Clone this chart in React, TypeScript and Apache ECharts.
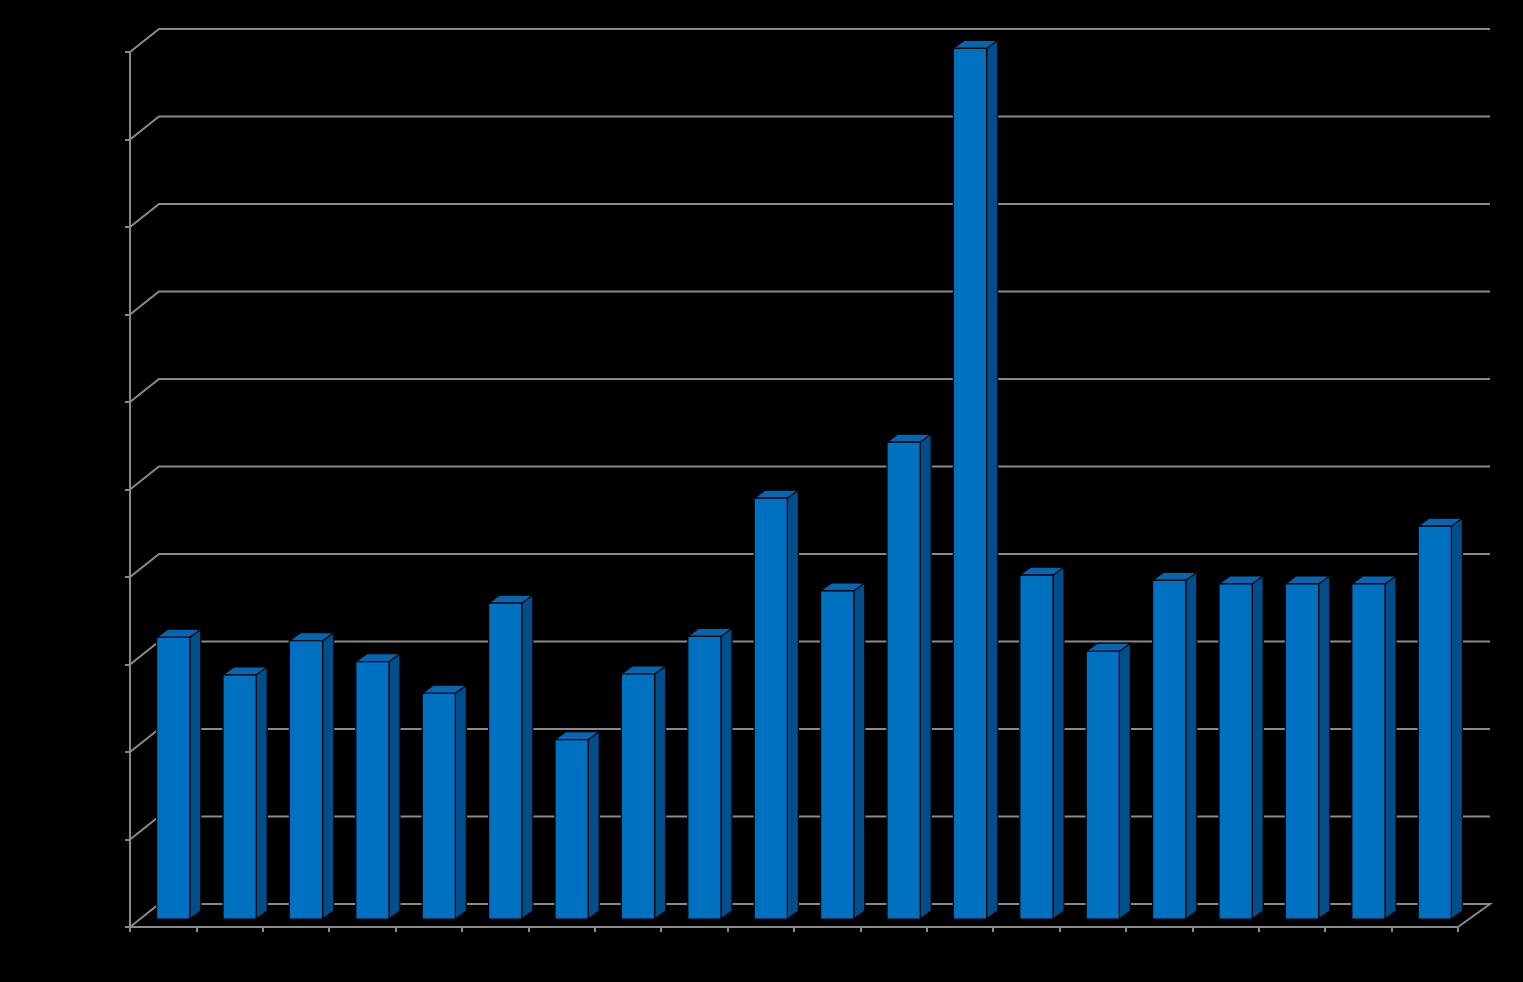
import React, { useEffect, useRef } from "react";
import * as echarts from "echarts";

const categories = ["1","2","3","4","5","6","7","8","9","10","11","12","13","14","15","16","17","18","19","20"];
const values = [32.2, 27.9, 31.8, 29.4, 25.8, 36.1, 20.5, 28.0, 32.3, 48.1, 37.5, 54.5, 99.5, 39.3, 30.6, 38.7, 38.3, 38.3, 38.3, 44.9];
const yTicks = [0, 10, 20, 30, 40, 50, 60, 70, 80, 90, 100];

const GRID_COLOR = "#8a8a8a";
const WALL_DX = 29;
const WALL_DY = -23;
const WALL_EXTRA = 3;
const BAR_OX = 10;
const BAR_OY = -8;
const BAR_DX = 11;
const BAR_DY = -8;

export default function App() {
  const ref = useRef<HTMLDivElement>(null);
  useEffect(() => {
    document.body.style.margin = "0";
    document.body.style.background = "#000";
    const chart = echarts.init(ref.current!, null, { renderer: "svg" });
    chart.setOption({
      animation: false,
      backgroundColor: "#000",
      grid: { left: 130, right: 65, top: 52, bottom: 55 },
      xAxis: {
        type: "category",
        data: categories,
        axisLine: { lineStyle: { color: GRID_COLOR, width: 2 } },
        axisTick: { show: true, length: 5, lineStyle: { color: GRID_COLOR, width: 2 } },
        axisLabel: { show: false },
        splitLine: { show: false },
      },
      yAxis: {
        type: "value",
        min: 0,
        max: 100,
        interval: 10,
        axisLine: { show: true, lineStyle: { color: GRID_COLOR, width: 2 } },
        axisTick: { show: true, length: 5, lineStyle: { color: GRID_COLOR, width: 2 } },
        axisLabel: { show: false },
        splitLine: { show: false },
      },
      series: [
        {
          type: "custom",
          z: 1,
          clip: false,
          data: yTicks.map((v) => [0, v]),
          encode: { x: 0, y: 1 },
          renderItem: (params: any, api: any) => {
            const cs = params.coordSys;
            const v = api.value(1);
            const y = api.coord([0, v])[1];
            const x0 = cs.x;
            const x1 = cs.x + cs.width;
            const pts =
              v === 0
                ? [[x0, y], [x0 + WALL_DX, y + WALL_DY], [x1 + WALL_DX + WALL_EXTRA, y + WALL_DY], [x1, y]]
                : [[x0, y], [x0 + WALL_DX, y + WALL_DY], [x1 + WALL_DX + WALL_EXTRA, y + WALL_DY]];
            return {
              type: "polyline",
              shape: { points: pts },
              style: { stroke: GRID_COLOR, lineWidth: 2, fill: "none" },
            };
          },
        },
        {
          type: "custom",
          z: 5,
          clip: false,
          data: values.map((v, i) => [i, v]),
          encode: { x: 0, y: 1 },
          renderItem: (params: any, api: any) => {
            const i = api.value(0);
            const v = api.value(1);
            const [cx, y0] = api.coord([i, 0]);
            const y1 = api.coord([i, v])[1];
            const bw = api.size([1, 0])[0] * 0.5;
            const xl = cx + BAR_OX - bw / 2;
            const xr = xl + bw;
            const yb = y0 + BAR_OY;
            const yt = y1 + BAR_OY;
            const stroke = "#000";
            return {
              type: "group",
              children: [
                {
                  type: "polygon",
                  shape: { points: [[xr, yb], [xr + BAR_DX, yb + BAR_DY], [xr + BAR_DX, yt + BAR_DY], [xr, yt]] },
                  style: { fill: "#004f8c", stroke, lineWidth: 1.2 },
                },
                {
                  type: "polygon",
                  shape: { points: [[xl, yt], [xl + BAR_DX, yt + BAR_DY], [xr + BAR_DX, yt + BAR_DY], [xr, yt]] },
                  style: { fill: "#0865b0", stroke, lineWidth: 1.2 },
                },
                {
                  type: "rect",
                  shape: { x: xl, y: yt, width: bw, height: yb - yt },
                  style: { fill: "#0070c0", stroke, lineWidth: 1.2 },
                },
              ],
            };
          },
        },
      ],
    });
    return () => chart.dispose();
  }, []);
  return <div ref={ref} style={{ width: 1523, height: 982, background: "#000" }} />;
}
